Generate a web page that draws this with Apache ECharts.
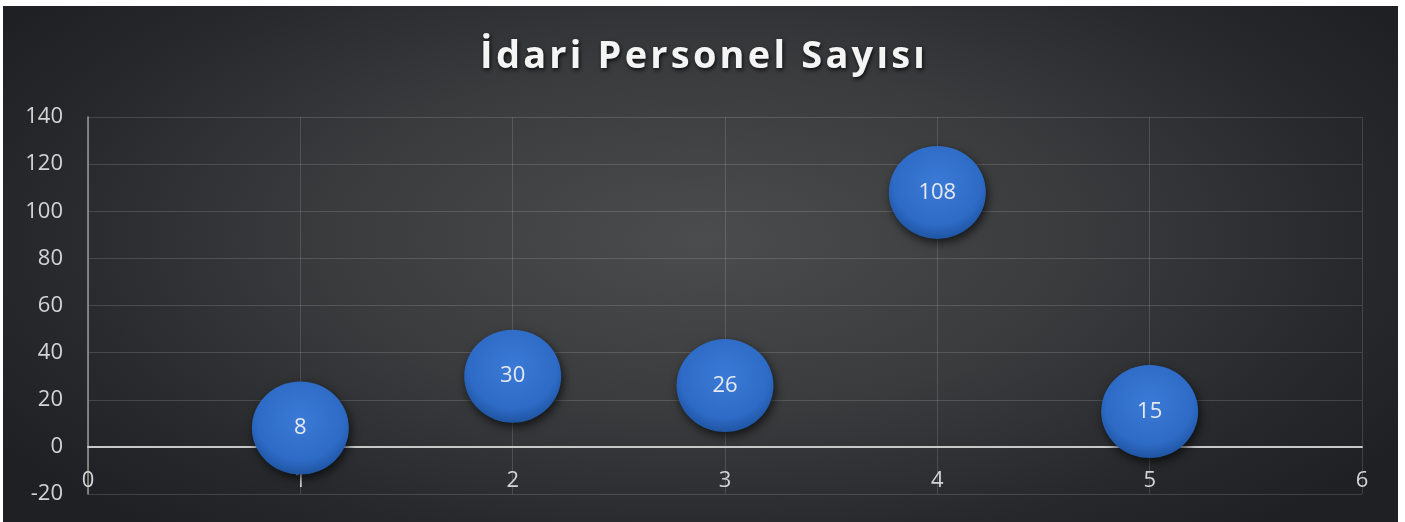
<!DOCTYPE html>
<html>
<head>
<meta charset="utf-8">
<script src="https://cdn.jsdelivr.net/npm/echarts@6/dist/echarts.min.js"></script>
<style>
html,body{margin:0;padding:0;background:#ffffff;}
#bg{position:absolute;left:3px;top:6px;width:1395px;height:516px;
background:radial-gradient(ellipse 60% 75% at 50% 45%, #4b4c4e 0%, #3a3b3d 45%, #26282b 80%, #1e2023 100%);}
#chart{position:absolute;left:0;top:0;width:1405px;height:522px;}
</style>
</head>
<body>
<div id="bg"></div>
<div id="chart"></div>
<script>
const titleText = 'İdari Personel Sayısı';
const xValues = [1, 2, 3, 4, 5];
const yValues = [8, 30, 26, 108, 15];

const chart = echarts.init(document.getElementById('chart'), null, {renderer: 'canvas'});
const font = '"Open Sans", "DejaVu Sans", sans-serif';
const titleStyle = {
  color: '#f4f4f4', fontSize: 38, fontWeight: 'bold', fontFamily: font,
  textShadowColor: 'rgba(0,0,0,0.8)', textShadowBlur: 4, textShadowOffsetX: 1, textShadowOffsetY: 2,
  padding: [0, 1.6, 0, 1.6]
};
chart.setOption({
  backgroundColor: 'transparent',
  animation: false,
  title: {
    text: titleText.split('').map(c => '{c|' + c + '}').join(''),
    left: 'center',
    top: 33,
    textStyle: {
      color: '#f4f4f4', fontSize: 38, fontWeight: 'bold', fontFamily: font,
      rich: {c: titleStyle}
    }
  },
  grid: {left: 88, right: 43, top: 117, bottom: 28, outerBoundsMode: 'none'},
  xAxis: {
    type: 'value', min: 0, max: 6, interval: 1,
    axisLine: {onZero: true, lineStyle: {color: '#c8c8c8', width: 2}},
    axisTick: {show: false},
    axisLabel: {color: '#d4d4d4', fontSize: 22, fontFamily: font, margin: -24},
    splitLine: {show: true, lineStyle: {color: 'rgba(255,255,255,0.14)', width: 1}}
  },
  yAxis: {
    type: 'value', min: -20, max: 140, interval: 20,
    axisLine: {show: true, lineStyle: {color: '#9a9a9a', width: 1.5}},
    axisTick: {show: false},
    axisLabel: {color: '#d4d4d4', fontSize: 22, fontFamily: font, margin: 25},
    splitLine: {show: true, lineStyle: {color: 'rgba(255,255,255,0.14)', width: 1}}
  },
  series: [{
    type: 'scatter',
    data: xValues.map((x, i) => [x, yValues[i]]),
    symbolSize: [97, 93],
    itemStyle: {
      color: {
        type: 'radial', x: 0.5, y: 0.4, r: 0.6,
        colorStops: [
          {offset: 0, color: '#3a7ad6'},
          {offset: 0.75, color: '#2e6bc6'},
          {offset: 1, color: '#1f55a3'}
        ]
      },
      shadowColor: 'rgba(0,0,0,0.65)', shadowBlur: 10, shadowOffsetX: 2, shadowOffsetY: 4,
      opacity: 1
    },
    label: {
      show: true, position: 'inside', color: '#e6e9ee', fontSize: 22, fontFamily: font,
      formatter: p => p.value[1]
    }
  }]
});
</script>
</body>
</html>
